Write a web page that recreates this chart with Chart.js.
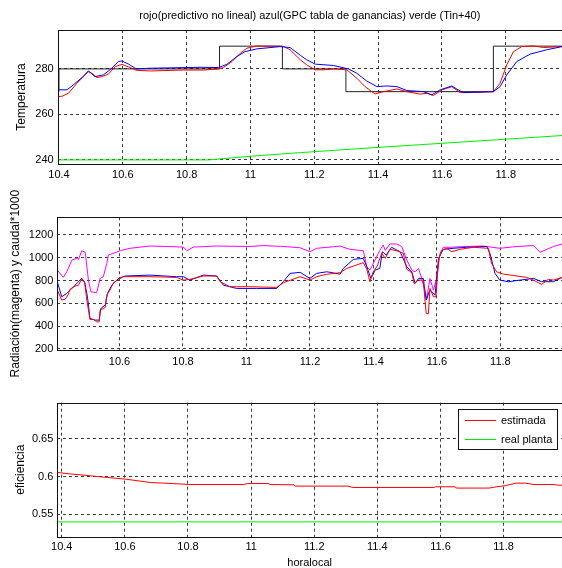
<!DOCTYPE html>
<html><head><meta charset="utf-8">
<script src="https://cdn.jsdelivr.net/npm/chart.js@4.4.0/dist/chart.umd.min.js"></script>
<style>
html,body{margin:0;padding:0;background:#fff;width:562px;height:568px;overflow:hidden}
canvas{position:absolute;left:0}
</style></head><body>
<canvas id="c1" width="562" height="190" style="top:0px"></canvas>
<canvas id="c2" width="562" height="205" style="top:180px"></canvas>
<canvas id="c3" width="562" height="183" style="top:385px"></canvas>
<script>
// ---------- tick labels ----------
const timeTicks = [10.4, 10.6, 10.8, 11.0, 11.2, 11.4, 11.6, 11.8];
const timeTickLabels = ['10.4', '10.6', '10.8', '11', '11.2', '11.4', '11.6', '11.8'];
const tempTicks = [240, 260, 280];
const tempTickLabels = ['240', '260', '280'];
const radTicks = [200, 400, 600, 800, 1000, 1200];
const radTickLabels = ['200', '400', '600', '800', '1000', '1200'];
const efTicks = [0.55, 0.6, 0.65];
const efTickLabels = ['0.55', '0.6', '0.65'];

// ---------- texts ----------
const topTitle = 'rojo(predictivo no lineal) azul(GPC tabla de ganancias) verde (Tin+40)';
const tempAxisTitle = 'Temperatura';
const radAxisTitle = 'Radiación(magenta) y caudal*1000';
const efAxisTitle = 'eficiencia';
const timeAxisTitle = 'horalocal';
const legendLabels = ['estimada', 'real planta'];

// ---------- panel 1: temperatures [hour, value] ----------
const tempRojo = [[10.397,267.8],[10.41,268],[10.43,269.3],[10.456,273.7],[10.472,275.9],[10.492,278.8],[10.503,278.1],[10.519,276.2],[10.534,276.6],[10.555,277.7],[10.576,281],[10.597,282],[10.618,280.9],[10.642,279.4],[10.686,279.1],[10.79,279.5],[10.853,279.5],[10.9,280],[10.915,280.6],[10.942,283.2],[10.968,286.9],[10.989,289.1],[11.02,290.1],[11.103,289.9],[11.124,288.4],[11.156,284],[11.176,281.8],[11.203,279.6],[11.229,279.6],[11.26,280],[11.302,279.6],[11.333,275.9],[11.359,272.2],[11.39,269],[11.417,270],[11.459,271.2],[11.49,270],[11.532,268.9],[11.553,269.3],[11.573,268.3],[11.6,270.8],[11.631,272.2],[11.657,269.6],[11.688,269.6],[11.761,270],[11.782,273.7],[11.803,281.8],[11.824,287.6],[11.85,289.8],[11.887,290.1],[11.918,289.4],[11.976,289.8]];
const tempAzul = [[10.397,270.8],[10.425,270.8],[10.445,273],[10.472,276.2],[10.492,279.1],[10.513,276.6],[10.539,277.4],[10.56,279.6],[10.586,283.2],[10.597,283.5],[10.618,282.1],[10.642,280],[10.686,280.3],[10.842,280.7],[10.9,280.6],[10.926,282],[10.957,285.4],[10.983,287.6],[11.02,288.8],[11.093,289.8],[11.124,289.4],[11.156,286],[11.176,284],[11.203,282.1],[11.26,281.5],[11.307,280],[11.333,278.1],[11.364,274.7],[11.396,272.2],[11.427,272.5],[11.459,272.2],[11.49,270.5],[11.542,270],[11.568,268.6],[11.594,270.8],[11.631,272.5],[11.647,271.1],[11.667,269.6],[11.761,270],[11.782,272.2],[11.803,277.4],[11.834,283.2],[11.876,286.5],[11.928,288.4],[11.976,289.8]];
const tempConsigna = [[10.397,270],[10.4,280],[10.903,290],[11.1,280],[11.299,270],[11.761,290],[11.976,290]];
const tempTin40 = [[10.397,240],[10.87,240],[11.0,241.6],[11.156,243.2],[11.4,245.5],[11.6,247.3],[11.8,249.1],[11.976,250.7]];

// ---------- panel 2: radiation and flow*1000 ----------
const radMagenta = [[10.404,892],[10.423,828],[10.434,877],[10.45,980],[10.466,995],[10.471,985],[10.481,1062],[10.492,1048],[10.502,804],[10.51,702],[10.528,693],[10.539,819],[10.549,834],[10.56,951],[10.565,1024],[10.586,1044],[10.602,1062],[10.633,1083],[10.696,1103],[10.749,1099],[10.801,1094],[10.812,1062],[10.833,1094],[10.906,1103],[11.011,1099],[11.053,1107],[11.116,1099],[11.169,1088],[11.2,1053],[11.221,1083],[11.274,1097],[11.295,1103],[11.326,1074],[11.368,1062],[11.379,921],[11.389,892],[11.405,980],[11.42,1065],[11.431,1112],[11.437,1065],[11.452,1121],[11.473,1121],[11.489,1100],[11.505,980],[11.521,892],[11.531,877],[11.542,906],[11.552,819],[11.568,643],[11.578,819],[11.589,716],[11.599,819],[11.61,1039],[11.62,1092],[11.641,1092],[11.694,1099],[11.746,1103],[11.798,1083],[11.851,1099],[11.904,1107],[11.925,1048],[11.967,1099],[11.994,1121]];
const caudalRojo = [[10.404,717],[10.418,629],[10.429,637],[10.439,681],[10.444,723],[10.46,752],[10.471,760],[10.481,816],[10.49,781],[10.497,629],[10.507,459],[10.518,459],[10.528,438],[10.536,438],[10.539,541],[10.555,564],[10.56,673],[10.57,717],[10.581,781],[10.597,811],[10.612,834],[10.696,834],[10.78,828],[10.801,804],[10.822,811],[10.864,840],[10.906,840],[10.917,790],[10.948,746],[11.011,746],[11.095,740],[11.116,781],[11.169,834],[11.2,804],[11.221,834],[11.253,855],[11.295,869],[11.316,907],[11.368,957],[11.379,899],[11.389,790],[11.398,870],[11.412,928],[11.426,1039],[11.437,995],[11.452,1074],[11.473,1062],[11.494,1039],[11.505,899],[11.521,869],[11.528,775],[11.542,804],[11.557,804],[11.566,512],[11.573,508],[11.578,731],[11.589,658],[11.597,658],[11.605,980],[11.615,1065],[11.631,1083],[11.647,1053],[11.673,1074],[11.694,1083],[11.715,1092],[11.762,1083],[11.772,951],[11.788,877],[11.809,857],[11.883,828],[11.904,804],[11.93,766],[11.951,811],[11.967,804],[11.994,828]];
const caudalAzul = [[10.404,790],[10.418,658],[10.434,687],[10.46,760],[10.481,819],[10.49,790],[10.499,658],[10.507,468],[10.523,453],[10.536,453],[10.541,555],[10.555,585],[10.562,687],[10.576,760],[10.597,819],[10.618,840],[10.696,848],[10.78,834],[10.801,834],[10.822,804],[10.864,848],[10.906,840],[10.927,760],[10.969,731],[11.032,731],[11.095,731],[11.116,790],[11.137,863],[11.169,872],[11.2,819],[11.221,863],[11.253,877],[11.295,857],[11.305,907],[11.337,986],[11.368,995],[11.379,921],[11.392,819],[11.405,892],[11.42,907],[11.428,1053],[11.44,1024],[11.457,1092],[11.484,1053],[11.505,921],[11.521,877],[11.531,775],[11.542,819],[11.557,819],[11.566,629],[11.578,716],[11.594,673],[11.605,995],[11.62,1074],[11.652,1083],[11.694,1092],[11.757,1099],[11.767,1039],[11.783,863],[11.798,804],[11.825,790],[11.862,804],[11.904,819],[11.93,790],[11.967,790],[11.994,828]];

// ---------- panel 3: efficiency ----------
const efEstimada = [[10.386,0.6053],[10.432,0.6032],[10.489,0.601],[10.545,0.5987],[10.602,0.5965],[10.682,0.592],[10.75,0.5907],[10.807,0.5894],[10.977,0.5894],[10.988,0.5907],[11.056,0.5907],[11.06,0.5894],[11.136,0.589],[11.14,0.5873],[11.306,0.5873],[11.323,0.5855],[11.579,0.5855],[11.584,0.5864],[11.647,0.5864],[11.65,0.5847],[11.754,0.5847],[11.772,0.586],[11.806,0.588],[11.84,0.5912],[11.87,0.5912],[11.896,0.5894],[11.959,0.5894],[11.975,0.5885],[11.985,0.5885]];
const efRealPlanta = [[10.386,0.54],[11.985,0.54]];

// ---------- helpers ----------
const FONT = '"Liberation Sans", Arial, Helvetica, sans-serif';
Chart.defaults.font.family = FONT;
Chart.defaults.font.size = 11;
Chart.defaults.color = '#000';

const pts = arr => arr.map(p => ({x: p[0], y: p[1]}));
const labeller = (vals, labels) => v => {
  const i = vals.findIndex(t => Math.abs(t - v) < 1e-6);
  return i >= 0 ? labels[i] : '';
};
const line = (label, data, color, extra) => Object.assign({
  label, data: pts(data), borderColor: color, backgroundColor: color,
  borderWidth: 1, pointRadius: 0, tension: 0, fill: false
}, extra || {});

const GRID = {color: '#3a3a3a', lineWidth: 1, drawTicks: false};
const BORDER = {display: false, dash: [3, 3]};

function xScale(min, max, height, pad, title) {
  return {
    type: 'linear', position: 'bottom', min, max,
    afterBuildTicks: s => { s.ticks = timeTicks.filter(v => v >= min && v <= max).map(v => ({value: v})); },
    afterFit: s => { s.height = height; },
    ticks: {padding: pad, autoSkip: false, maxRotation: 0, color: '#000', callback: labeller(timeTicks, timeTickLabels)},
    grid: GRID, border: BORDER,
    title: title ? {display: true, text: title, color: '#000', font: {size: 11}, padding: {top: 0, bottom: -2}} : {display: false}
  };
}
function yScale(min, max, vals, labels, width, title, titlePad) {
  return {
    type: 'linear', position: 'left', min, max,
    afterBuildTicks: s => { s.ticks = vals.filter(v => v >= min && v <= max).map(v => ({value: v})); },
    afterFit: s => { s.width = width; },
    ticks: {padding: 4, color: '#000', callback: labeller(vals, labels)},
    grid: GRID, border: BORDER,
    title: {display: true, text: title, color: '#000', font: {size: 12}, padding: {top: titlePad, bottom: 0}}
  };
}
const boxPlugin = {
  id: 'axesBox',
  afterDatasetsDraw(chart) {
    const {ctx, chartArea: a} = chart;
    ctx.save();
    ctx.strokeStyle = '#111';
    ctx.lineWidth = 1;
    ctx.strokeRect(Math.round(a.left) + 0.5, Math.round(a.top) + 0.5, Math.round(a.right - a.left), Math.round(a.bottom - a.top));
    ctx.restore();
  }
};
const legendPlugin = {
  id: 'insideLegend',
  afterDraw(chart) {
    const ctx = chart.ctx;
    const x0 = 458.5, y0 = 24.5, w = 99, h = 40;
    ctx.save();
    ctx.fillStyle = '#fff';
    ctx.fillRect(x0, y0, w, h);
    ctx.strokeStyle = '#111';
    ctx.lineWidth = 1;
    ctx.strokeRect(x0, y0, w, h);
    const rows = [35.5, 54.5];
    chart.data.datasets.forEach((ds, i) => {
      ctx.strokeStyle = ds.borderColor;
      ctx.beginPath();
      ctx.moveTo(465, rows[i]);
      ctx.lineTo(496, rows[i]);
      ctx.stroke();
      ctx.fillStyle = '#000';
      ctx.font = '11px ' + FONT;
      ctx.textBaseline = 'middle';
      ctx.textAlign = 'left';
      ctx.fillText(ds.label, 501, rows[i]);
    });
    ctx.restore();
  }
};
const base = {
  responsive: false, animation: false, events: [],
  plugins: {legend: {display: false}, tooltip: {enabled: false}}
};

// ---------- chart 1 ----------
new Chart(document.getElementById('c1'), {
  type: 'line',
  data: {datasets: [
    line('GPC', tempAzul, '#0000ff'),
    line('predictivo', tempRojo, '#ff0000'),
    line('consigna', tempConsigna, '#222222', {stepped: 'before'}),
    line('Tin+40', tempTin40, '#00ee00')
  ]},
  options: Object.assign({}, base, {
    layout: {padding: {left: 0, right: 0, top: 0, bottom: 0}},
    plugins: {legend: {display: false}, tooltip: {enabled: false},
      title: {display: true, text: topTitle, color: '#000', font: {size: 11, weight: 'normal'}, fullSize: false, align: 'center', padding: {top: 9.1, bottom: 7.7}}},
    scales: {
      x: xScale(10.396, 11.976, 26, 4.4),
      y: yScale(238.2, 297.1, tempTicks, tempTickLabels, 57.7, tempAxisTitle, 14.5)
    }
  }),
  plugins: [boxPlugin]
});

// ---------- chart 2 ----------
new Chart(document.getElementById('c2'), {
  type: 'line',
  data: {datasets: [
    line('caudal predictivo', caudalRojo, '#ff0000'),
    line('caudal GPC', caudalAzul, '#0000ff'),
    line('Radiación', radMagenta, '#ff00ff')
  ]},
  options: Object.assign({}, base, {
    layout: {padding: {left: 0, right: 0, top: 37.3, bottom: 0}},
    scales: {
      x: xScale(10.404, 11.994, 35, 5.1),
      y: yScale(191, 1355, radTicks, radTickLabels, 57.3, radAxisTitle, 8.3)
    }
  }),
  plugins: [boxPlugin]
});

// ---------- chart 3 ----------
new Chart(document.getElementById('c3'), {
  type: 'line',
  data: {datasets: [
    line(legendLabels[0], efEstimada, '#ff0000'),
    line(legendLabels[1], efRealPlanta, '#00ee00')
  ]},
  options: Object.assign({}, base, {
    layout: {padding: {left: 0, right: 0, top: 17.7, bottom: 0}},
    scales: {
      x: xScale(10.386, 11.985, 31.3, 3.4, timeAxisTitle),
      y: yScale(0.5204, 0.6976, efTicks, efTickLabels, 57.3, efAxisTitle, 13.4)
    }
  }),
  plugins: [boxPlugin, legendPlugin]
});
</script>
</body></html>
